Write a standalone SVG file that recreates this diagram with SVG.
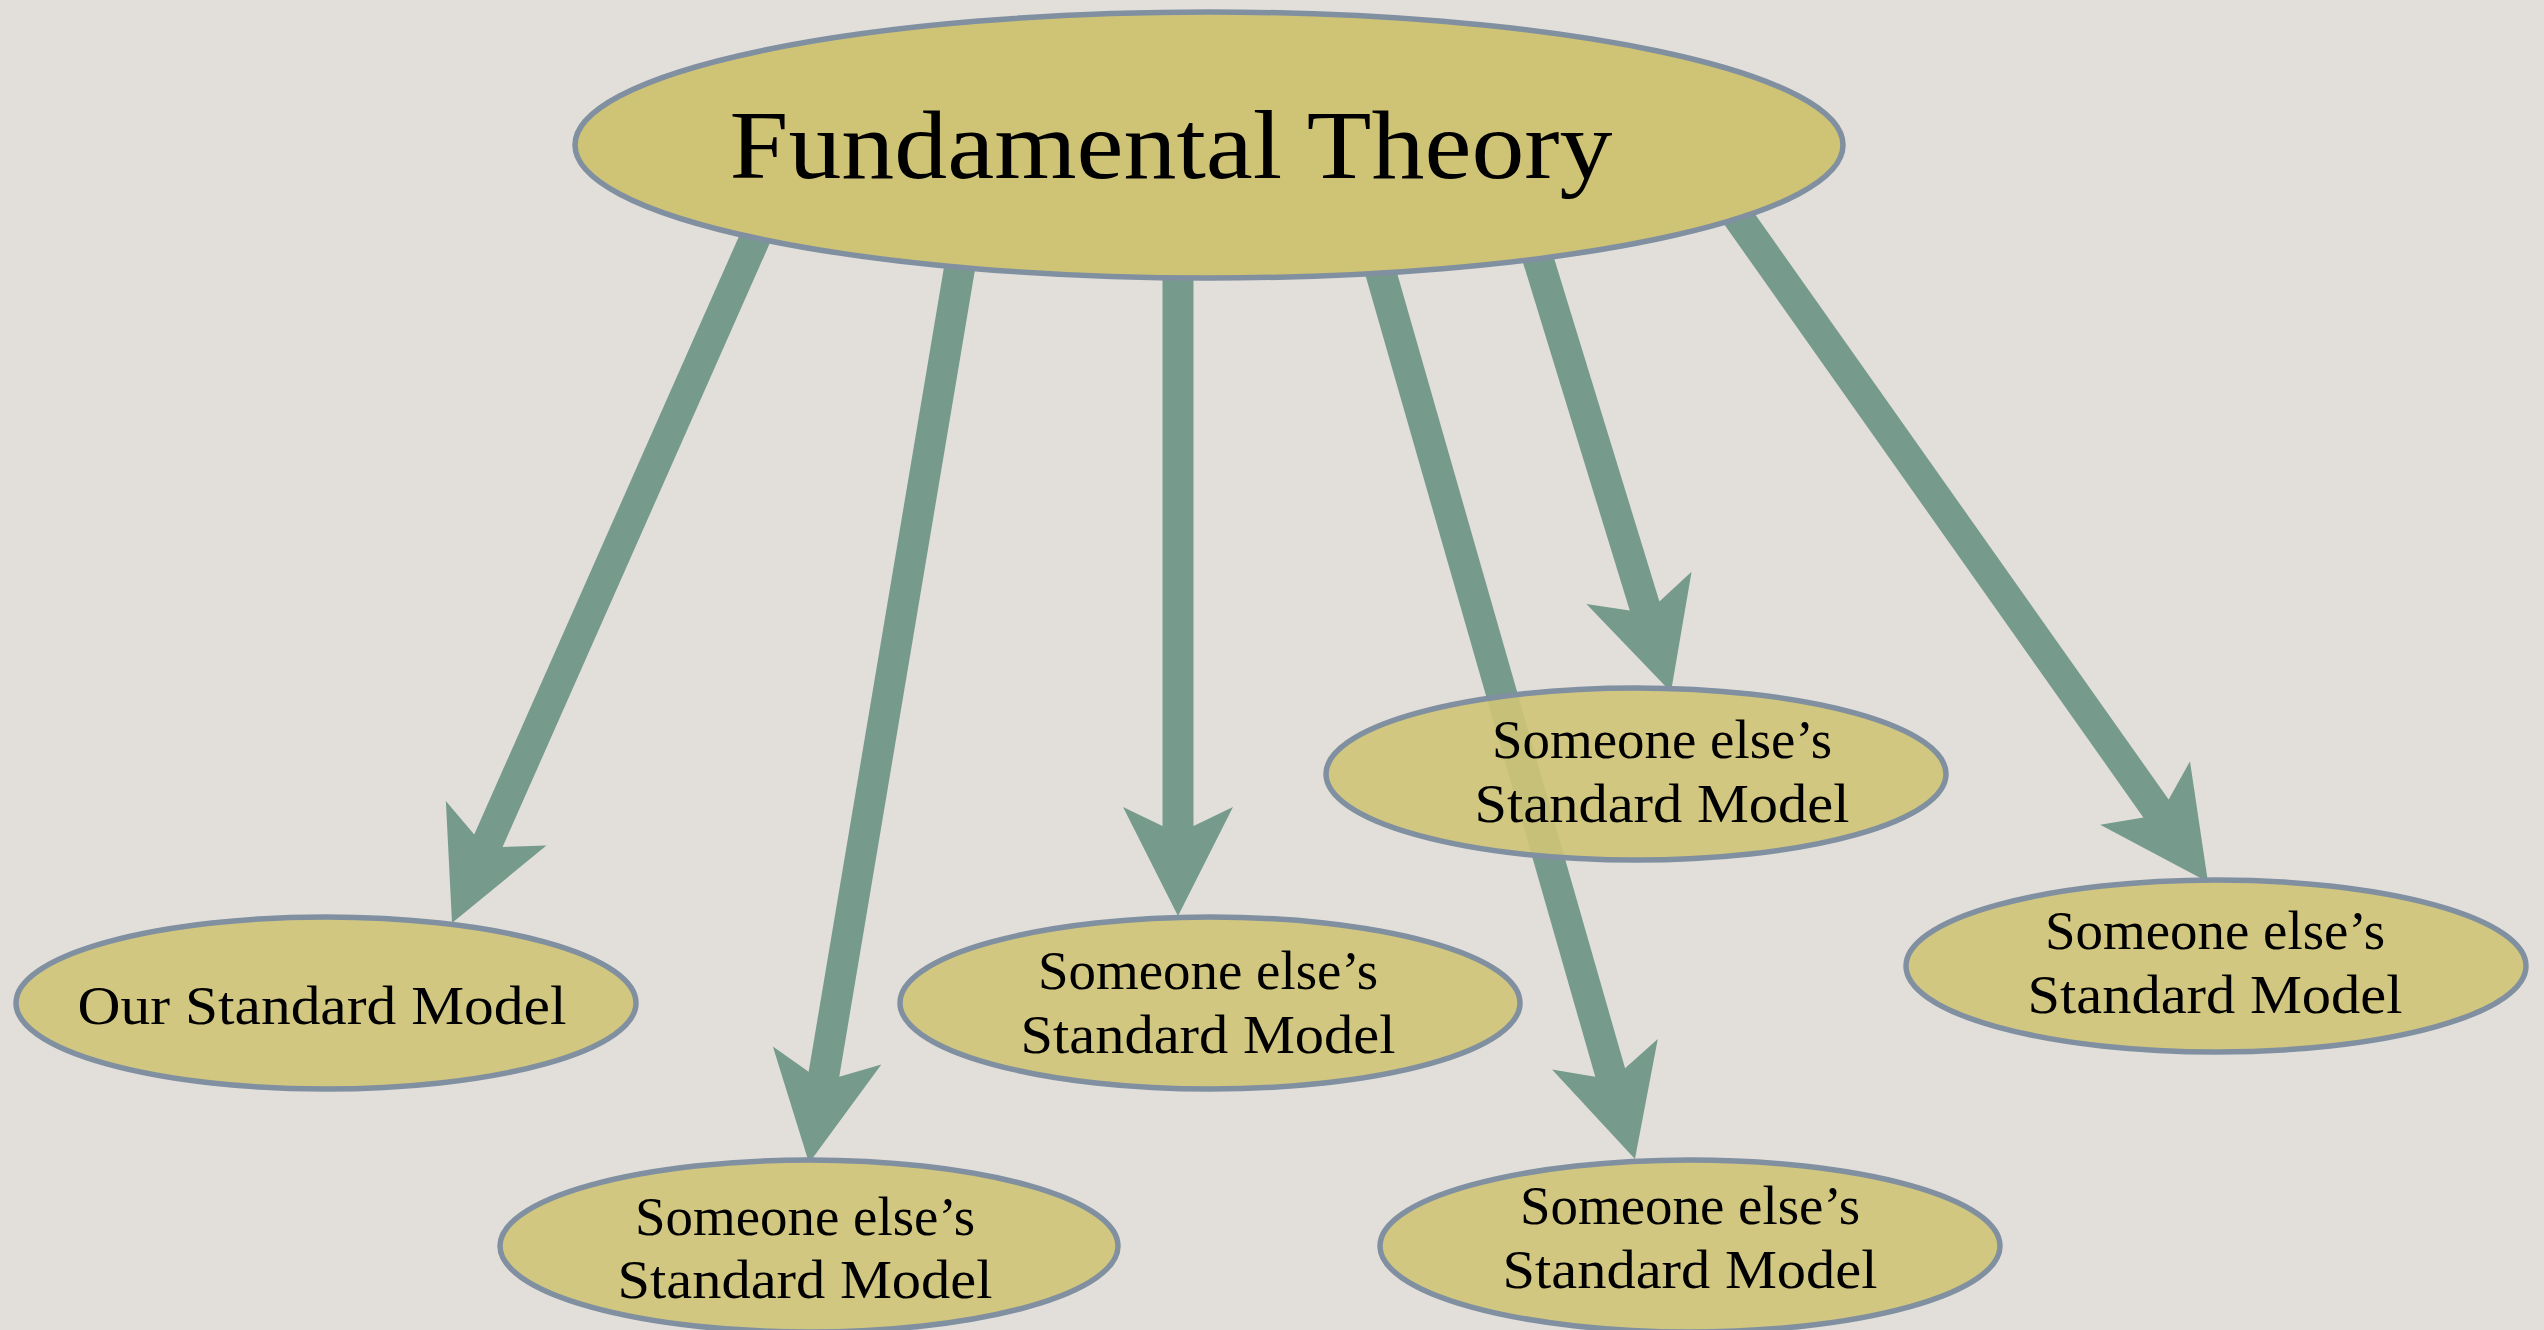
<svg xmlns="http://www.w3.org/2000/svg" width="2544" height="1330" viewBox="0 0 2544 1330">
<style>
.bg{fill:#e2dfdb}
.node{fill:#cfc476;stroke:#8090a0;stroke-width:5.5}
.small{fill-opacity:0.9}
.conn{stroke:#769b8c;stroke-width:31;fill:none;marker-end:url(#ah)}
.t{font-family:"Liberation Serif","Times New Roman",serif;fill:#000;text-anchor:middle}
.big{font-size:98px}
.lbl{font-size:55px}
</style>
<defs>
<marker id="ah" markerUnits="userSpaceOnUse" orient="auto" overflow="visible" markerWidth="10" markerHeight="10" refX="0" refY="0">
<path d="M80,0 L-29,-55 L-10,-15.5 L-10,15.5 L-29,55 Z" fill="#769b8c"/>
</marker>
</defs>
<rect class="bg" x="0" y="0" width="2544" height="1330"/>
<g id="connectors">
<line class="conn" x1="772" y1="200" x2="484.4" y2="849.8"/>
<line class="conn" x1="971" y1="200" x2="822.3" y2="1084.1"/>
<line class="conn" x1="1178" y1="200" x2="1178" y2="836"/>
<line class="conn" x1="1360" y1="200" x2="1612.9" y2="1082.1"/>
<line class="conn" x1="1520" y1="200" x2="1647.5" y2="615.5"/>
<line class="conn" x1="1726" y1="200" x2="2161.8" y2="816.7"/>
</g>
<g id="fundamental">
<ellipse class="node" cx="1209" cy="145" rx="634" ry="133"/>
<text class="t big" x="1171" y="178" textLength="883" lengthAdjust="spacingAndGlyphs">Fundamental Theory</text>
</g>
<g id="our-sm">
<ellipse class="node small" cx="326" cy="1003" rx="310" ry="86"/>
<text class="t lbl" x="322" y="1024" textLength="489" lengthAdjust="spacingAndGlyphs">Our Standard Model</text>
</g>
<g id="sm2">
<ellipse class="node small" cx="809" cy="1246" rx="309" ry="86"/>
<text class="t lbl" x="805" y="1235" textLength="340" lengthAdjust="spacingAndGlyphs">Someone else’s</text>
<text class="t lbl" x="805" y="1298" textLength="375" lengthAdjust="spacingAndGlyphs">Standard Model</text>
</g>
<g id="sm3">
<ellipse class="node small" cx="1210" cy="1003" rx="310" ry="86"/>
<text class="t lbl" x="1208" y="989" textLength="340" lengthAdjust="spacingAndGlyphs">Someone else’s</text>
<text class="t lbl" x="1208" y="1053" textLength="375" lengthAdjust="spacingAndGlyphs">Standard Model</text>
</g>
<g id="sm4">
<ellipse class="node small" cx="1636" cy="774" rx="310" ry="86"/>
<text class="t lbl" x="1662" y="758" textLength="340" lengthAdjust="spacingAndGlyphs">Someone else’s</text>
<text class="t lbl" x="1662" y="822" textLength="375" lengthAdjust="spacingAndGlyphs">Standard Model</text>
</g>
<g id="sm5">
<ellipse class="node small" cx="1690" cy="1246" rx="310" ry="86"/>
<text class="t lbl" x="1690" y="1224" textLength="340" lengthAdjust="spacingAndGlyphs">Someone else’s</text>
<text class="t lbl" x="1690" y="1288" textLength="375" lengthAdjust="spacingAndGlyphs">Standard Model</text>
</g>
<g id="sm6">
<ellipse class="node small" cx="2216" cy="966" rx="310" ry="86"/>
<text class="t lbl" x="2215" y="949" textLength="340" lengthAdjust="spacingAndGlyphs">Someone else’s</text>
<text class="t lbl" x="2215" y="1013" textLength="375" lengthAdjust="spacingAndGlyphs">Standard Model</text>
</g>
</svg>
